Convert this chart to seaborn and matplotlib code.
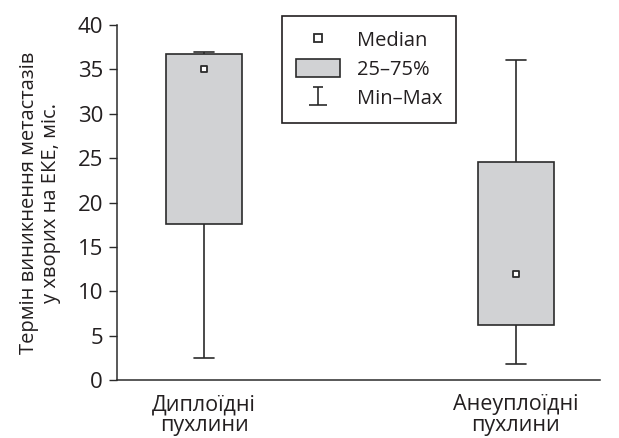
import pandas as pd
import matplotlib
matplotlib.use("Agg")
import matplotlib.pyplot as plt
from matplotlib.lines import Line2D
from matplotlib.patches import Patch
from matplotlib.path import Path
import seaborn as sns

# значення
groups = ["Диплоїдні\nпухлини", "Анеуплоїдні\nпухлини"]
mins = [2.5, 1.8]
q1s = [17.6, 6.2]
medians = [35.0, 12.0]
q3s = [36.7, 24.6]
maxs = [37.0, 36.0]
yticks = [0, 5, 10, 15, 20, 25, 30, 35, 40]

box_gray = "#d1d2d4"
edge = "#2b2b2b"
txt = "#231f20"

# 5 точок на групу -> квартилі збігаються точно з min/q1/med/q3/max
rows = []
for g, a, b, c, d, e in zip(groups, mins, q1s, medians, q3s, maxs):
    for v in (a, b, c, d, e):
        rows.append({"group": g, "value": v})
df = pd.DataFrame(rows)
df_med = pd.DataFrame({"group": groups, "value": medians})

sns.set_theme(style="ticks")
plt.rcParams["font.family"] = ["Open Sans", "DejaVu Sans"]

fig = plt.figure(figsize=(6.19, 4.38), dpi=100)
ax = fig.add_axes([0.189, 0.132, 0.780, 0.811])

sns.boxplot(data=df, x="group", y="value", order=groups, whis=(0, 100),
            width=0.245, color=box_gray, linecolor=edge, linewidth=1.2,
            saturation=1, medianprops={"visible": False},
            capwidths=0.065, ax=ax)
sns.stripplot(data=df_med, x="group", y="value", order=groups, jitter=False,
              marker="s", size=5, color="white", edgecolor=edge,
              linewidth=1.3, zorder=5, ax=ax)

ax.set_xlim(-0.28, 1.27)
ax.set_ylim(0, 40)
ax.set_yticks(yticks)
ax.set_xlabel("")
ax.set_ylabel("Термін виникнення метастазів\nу хворих на ЕКЕ, міс.",
              fontsize=14.5, labelpad=12, color=txt, linespacing=1.15)
ax.tick_params(axis="y", direction="out", length=6, width=1, colors=edge,
               labelsize=16, labelcolor=txt, pad=4)
ax.tick_params(axis="x", length=0, pad=10, labelsize=15.5, labelcolor=txt)
for lab in ax.get_xticklabels():
    lab.set_linespacing(1.0)
sns.despine(ax=ax)
for s in ("left", "bottom"):
    ax.spines[s].set_color(edge)
    ax.spines[s].set_linewidth(1.1)

# легенда
minmax = Path([(-0.5, 1), (0.5, 1), (0, 1), (0, -1), (-1, -1), (1, -1)],
              [Path.MOVETO, Path.LINETO, Path.MOVETO, Path.LINETO,
               Path.MOVETO, Path.LINETO])
handles = [
    Line2D([0], [0], marker="s", linestyle="none", markersize=6,
           markerfacecolor="white", markeredgecolor=edge, markeredgewidth=1.3),
    Patch(facecolor=box_gray, edgecolor=edge, linewidth=1.2),
    Line2D([0], [0], marker=minmax, linestyle="none", markersize=13,
           markerfacecolor="none", markeredgecolor=edge, markeredgewidth=1.2),
]
leg = ax.legend(handles, ["Median", "25–75%", "Min–Max"],
                loc="upper left", bbox_to_anchor=(282 / 619, 1 - 16 / 438),
                bbox_transform=fig.transFigure, fontsize=14.5, frameon=True,
                fancybox=False, framealpha=1, edgecolor=txt,
                handlelength=2.2, handleheight=1.0, labelspacing=0.4,
                borderpad=0.7, handletextpad=0.8, borderaxespad=0)
leg.get_frame().set_linewidth(1.2)
for t in leg.get_texts():
    t.set_color(txt)

fig.savefig("out.png", dpi=100)
